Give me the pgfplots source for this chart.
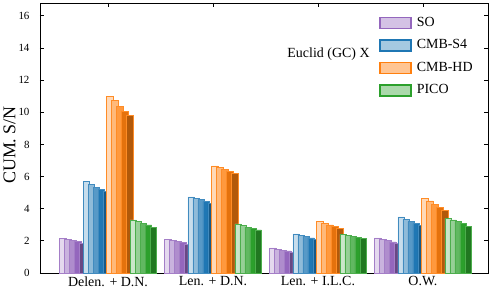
\documentclass[border=0pt]{standalone}
\usepackage{pgfplots}
\pgfplotsset{compat=1.18}
\usepackage{fontspec}
\setmainfont{Liberation Serif}
\definecolor{cSO}{HTML}{9467BD}
\definecolor{cS4}{HTML}{1F77B4}
\definecolor{cHD}{HTML}{FF7F0E}
\definecolor{cPI}{HTML}{2CA02C}
\newcommand{\bars}[4]{\addplot[ybar, bar width=6.5bp, bar shift=#1bp, fill=#2, draw=#3, line width=0.8bp, forget plot] coordinates {#4};}
\begin{document}
\begin{tikzpicture}
\begin{axis}[
  scale only axis, width=448bp, height=270bp,
  xmin=-0.648, xmax=3.62, ymin=0, ymax=16.8,
  xtick={0,1,2,3},
  xticklabels={Delen. + D.N., Len. + D.N., Len. + I.L.C., O.W.},
  ytick={0,2,...,16},
  tick pos=both, tick align=inside, major tick length=4bp,
  /pgf/number format/assume math mode=true,
  xticklabel style={font=\fontsize{14}{16}\selectfont},
  yticklabel style={font=\fontsize{11}{13}\selectfont, xshift=-7bp},
  axis line style={line width=0.8bp},
  every tick/.style={black, line width=0.8bp},
  ylabel={CUM. S/N},
  ylabel style={font=\fontsize{18}{20}\selectfont, at={(axis description cs:-0.068,0.474)}, anchor=center},
  legend cell align=left,
  legend style={draw=none, fill=none, at={(rel axis cs:0.757,0.955)}, anchor=north west,
    font=\fontsize{14}{16}\selectfont, row sep=7.5bp, inner sep=0pt,
    nodes={inner sep=1bp, text height=10bp, text depth=3bp},
    /tikz/every odd column/.append style={column sep=4bp}},
  legend image code/.code={\path[draw,fill,line width=1.5bp] (0bp,-5.5bp) rectangle (31bp,5.5bp);},
]
\addlegendimage{fill=cSO!40!white, draw=cSO}\addlegendentry{SO}
\addlegendimage{fill=cS4!40!white, draw=cS4}\addlegendentry{CMB-S4}
\addlegendimage{fill=cHD!45!white, draw=cHD}\addlegendentry{CMB-HD}
\addlegendimage{fill=cPI!40!white, draw=cPI}\addlegendentry{PICO}
% SO
\bars{-45.25}{cSO!25!white}{cSO!85!white}{(0,2.16) (1,2.10) (2,1.56) (3,2.18)}
\bars{-40.25}{cSO!50!white}{cSO!85!white}{(0,2.10) (1,2.03) (2,1.49) (3,2.10)}
\bars{-35.25}{cSO!75!white}{cSO!85!white}{(0,2.02) (1,1.96) (2,1.43) (3,2.02)}
\bars{-30.25}{cSO}{cSO!85!white}{(0,1.94) (1,1.88) (2,1.37) (3,1.93)}
\bars{-25.25}{cSO!70!black}{cSO!85!white}{(0,1.85) (1,1.80) (2,1.30) (3,1.83)}
% CMB-S4
\bars{-21.75}{cS4!25!white}{cS4!85!white}{(0,5.69) (1,4.73) (2,2.43) (3,3.49)}
\bars{-16.75}{cS4!50!white}{cS4!85!white}{(0,5.52) (1,4.65) (2,2.36) (3,3.34)}
\bars{-11.75}{cS4!75!white}{cS4!85!white}{(0,5.34) (1,4.55) (2,2.27) (3,3.19)}
\bars{-6.75}{cS4}{cS4!85!white}{(0,5.19) (1,4.44) (2,2.18) (3,3.08)}
\bars{-1.75}{cS4!75!black}{cS4!85!white}{(0,5.06) (1,4.30) (2,2.09) (3,2.94)}
% CMB-HD
\bars{1.75}{cHD!30!white}{cHD!90!white}{(0,10.98) (1,6.66) (2,3.18) (3,4.63)}
\bars{6.75}{cHD!55!white}{cHD!90!white}{(0,10.75) (1,6.56) (2,3.08) (3,4.48)}
\bars{11.75}{cHD!80!white}{cHD!90!white}{(0,10.34) (1,6.46) (2,2.99) (3,4.28)}
\bars{16.75}{cHD!90!black}{cHD!90!white}{(0,10.07) (1,6.33) (2,2.90) (3,4.09)}
\bars{21.75}{cHD!70!black}{cHD!90!white}{(0,9.78) (1,6.21) (2,2.79) (3,3.88)}
% PICO
\bars{25.25}{cPI!25!white}{cPI!85!white}{(0,3.30) (1,3.05) (2,2.41) (3,3.40)}
\bars{30.25}{cPI!50!white}{cPI!85!white}{(0,3.22) (1,2.95) (2,2.35) (3,3.30)}
\bars{35.25}{cPI!75!white}{cPI!85!white}{(0,3.09) (1,2.86) (2,2.28) (3,3.18)}
\bars{40.25}{cPI}{cPI!85!white}{(0,2.99) (1,2.77) (2,2.22) (3,3.07)}
\bars{45.25}{cPI!75!black}{cPI!85!white}{(0,2.85) (1,2.68) (2,2.14) (3,2.88)}
\node[font=\fontsize{14}{16}\selectfont, anchor=center] at (rel axis cs:0.644,0.811) {Euclid (GC) X};
\end{axis}
\pgfresetboundingbox
\path (-40bp,-23bp) rectangle (456bp,273bp);
\end{tikzpicture}
\end{document}
